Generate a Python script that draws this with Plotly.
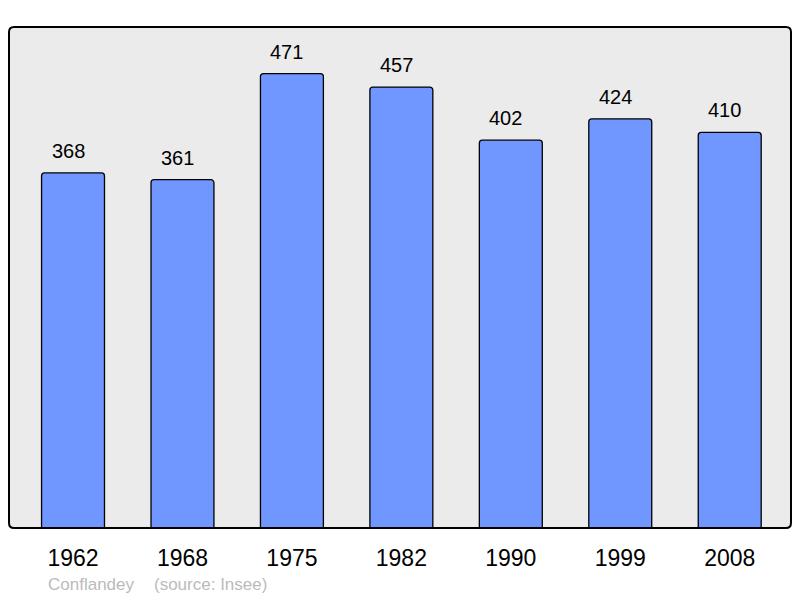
import plotly.graph_objects as go

years = ["1962", "1968", "1975", "1982", "1990", "1999", "2008"]
population = [368, 361, 471, 457, 402, 424, 410]
commune = "Conflandey"
source = "(source: Insee)"

FONT = "Liberation Sans, Arial, sans-serif"

# page offset of 8px (body margin): figure spans page x 8..800, y 8..598
W, H = 792, 590
L, R, T, B = 1, 9, 19, 70
pw, ph = W - L - R, H - T - B

fig = go.Figure()
idx = list(range(len(years)))
fig.add_trace(go.Bar(
    x=idx, y=population,
    width=0.575,
    marker=dict(color="#7097ff", line=dict(color="#000000", width=1.3), cornerradius=3),
    hoverinfo="y",
))

for i, v in zip(idx, population):
    fig.add_annotation(x=i, y=v, text=str(v), showarrow=False, xref="x", yref="y",
                       yanchor="bottom", yshift=9, xshift=-5,
                       font=dict(family=FONT, size=20, color="#000"))

def px(xp):
    return (xp - 8 - L) / pw

def py(yp):
    return 1 - (yp - 8 - T) / ph

fig.add_annotation(x=px(46), y=py(584), xref="paper", yref="paper", text=commune,
                   showarrow=False, xanchor="left", yanchor="middle",
                   font=dict(family=FONT, size=17, color="#bbbbbb"))
fig.add_annotation(x=px(152), y=py(584), xref="paper", yref="paper", text=source,
                   showarrow=False, xanchor="left", yanchor="middle",
                   font=dict(family=FONT, size=17, color="#bbbbbb"))

# rounded plot frame
r = 5
rx, ry = r / pw, r / ph
path = (f"M {rx},0 L {1-rx},0 Q 1,0 1,{ry} L 1,{1-ry} Q 1,1 {1-rx},1 "
        f"L {rx},1 Q 0,1 0,{1-ry} L 0,{ry} Q 0,0 {rx},0 Z")
fig.add_shape(type="path", xref="paper", yref="paper", path=path,
              fillcolor="#ebebeb", line=dict(width=0), layer="below")
fig.add_shape(type="path", xref="paper", yref="paper", path=path,
              line=dict(color="#000", width=2), layer="above")

fig.update_layout(
    width=W, height=H,
    margin=dict(l=L, r=R, t=T, b=B, pad=0),
    paper_bgcolor="#ffffff",
    plot_bgcolor="rgba(0,0,0,0)",
    showlegend=False,
    font=dict(family=FONT),
    xaxis=dict(range=[-0.585, 6.56], showgrid=False, zeroline=False,
               tickmode="array", tickvals=idx, ticktext=years,
               ticks="outside", ticklen=9, tickcolor="rgba(0,0,0,0)",
               tickfont=dict(size=23, color="#000"), fixedrange=True),
    yaxis=dict(range=[0, 519.3], showgrid=False, zeroline=False, showticklabels=False,
               fixedrange=True),
)

fig.write_html("out.html")
